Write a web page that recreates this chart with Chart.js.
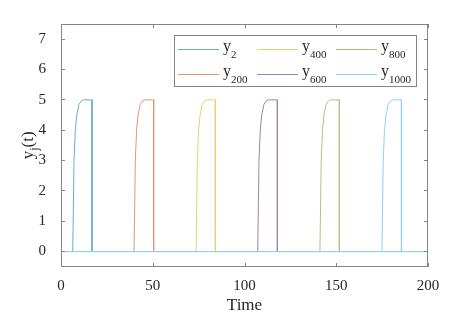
<!DOCTYPE html>
<html>
<head>
<meta charset="utf-8">
<script src="https://cdn.jsdelivr.net/npm/chart.js@4.4.1/dist/chart.umd.min.js"></script>
<style>
  html, body { margin: 0; padding: 0; background: #fff; }
  #wrap { width: 472px; height: 316px; }
</style>
</head>
<body>
<div id="wrap"><canvas id="pulseChart" width="472" height="316"></canvas></div>
<script>
// time points and values, one pair per series
const t2    = [0, 6.4, 7.1, 7.8, 8.6, 9.8, 11.3, 12.4, 16.9, 16.9, 200];
const v2    = [0, 0, 3.0, 4.0, 4.5, 4.85, 4.98, 5, 5, 0, 0];
const t200  = [0, 39.8, 40.5, 41.2, 42.0, 43.2, 44.7, 45.8, 50.5, 50.5, 200];
const v200  = [0, 0, 3.0, 4.0, 4.5, 4.85, 4.98, 5, 5, 0, 0];
const t400  = [0, 73.6, 74.3, 75.0, 75.8, 77.0, 78.5, 79.6, 84.1, 84.1, 200];
const v400  = [0, 0, 3.0, 4.0, 4.5, 4.85, 4.98, 5, 5, 0, 0];
const t600  = [0, 107.2, 107.9, 108.6, 109.4, 110.6, 112.1, 113.2, 117.9, 117.9, 200];
const v600  = [0, 0, 3.0, 4.0, 4.5, 4.85, 4.98, 5, 5, 0, 0];
const t800  = [0, 141.1, 141.8, 142.5, 143.3, 144.5, 146.0, 147.1, 151.7, 151.7, 200];
const v800  = [0, 0, 3.0, 4.0, 4.5, 4.85, 4.98, 5, 5, 0, 0];
const t1000 = [0, 174.9, 175.6, 176.3, 177.1, 178.3, 179.8, 180.9, 185.5, 185.5, 200];
const v1000 = [0, 0, 3.0, 4.0, 4.5, 4.85, 4.98, 5, 5, 0, 0];

const seriesNames = ['2', '200', '400', '600', '800', '1000'];
const xTicks = [0, 50, 100, 150, 200];
const yTicks = [0, 1, 2, 3, 4, 5, 6, 7];

// MATLAB default colours, lightened a little as they look in the picture
const colors = ['#66AAD7', '#E39470', '#F2CC6E', '#A77DB2', '#A3C97D', '#8DD3F2'];
const baseColor = colors[colors.length - 1];   // the last series hides the others along y = 0
const FONT = "'Liberation Serif', 'Times New Roman', serif";

function pts(ts, vs) {
    return ts.map((t, i) => ({ x: t, y: vs[i] }));
}

const allT = [t2, t200, t400, t600, t800, t1000];
const allV = [v2, v200, v400, v600, v800, v1000];

const datasets = seriesNames.map((name, i) => ({
    label: 'y' + name,
    data: pts(allT[i], allV[i]),
    borderColor: colors[i],
    backgroundColor: colors[i],
    borderWidth: 1,
    pointRadius: 0,
    tension: 0,
    fill: false,
    order: seriesNames.length - i,
    segment: {
        borderColor: c => (c.p0.parsed.y === 0 && c.p1.parsed.y === 0) ? baseColor : undefined
    }
}));

// box, inward ticks, axis titles, legend with subscripts
const matlabLook = {
    id: 'matlabLook',
    afterDraw(chart) {
        const ctx = chart.ctx;
        const a = chart.chartArea;
        const xs = chart.scales.x, ys = chart.scales.y;
        const L = Math.round(a.left), R = Math.round(a.right);
        const T = Math.round(a.top), B = Math.round(a.bottom);
        ctx.save();
        ctx.strokeStyle = '#858585';
        ctx.lineWidth = 1;
        ctx.strokeRect(L + 0.5, T + 0.5, R - L - 1, B - T - 1);
        ctx.beginPath();
        xTicks.forEach(v => {
            const px = Math.round(xs.getPixelForValue(v)) + 0.5;
            ctx.moveTo(px, B); ctx.lineTo(px, B - 4);
            ctx.moveTo(px, T); ctx.lineTo(px, T + 4);
        });
        yTicks.forEach(v => {
            const py = Math.round(ys.getPixelForValue(v) - 0.5) + 0.5;
            ctx.moveTo(L, py); ctx.lineTo(L + 4, py);
            ctx.moveTo(R, py); ctx.lineTo(R - 4, py);
        });
        ctx.stroke();

        // x title
        ctx.fillStyle = '#262626';
        ctx.font = '17px ' + FONT;
        ctx.textAlign = 'center';
        ctx.textBaseline = 'alphabetic';
        ctx.fillText('Time', (a.left + a.right) / 2, 310);

        // y title: y_j(t)
        ctx.save();
        ctx.translate(33, (a.top + a.bottom) / 2);
        ctx.rotate(-Math.PI / 2);
        ctx.textAlign = 'left';
        ctx.font = '17px ' + FONT;
        const wy = ctx.measureText('y').width;
        const wt = ctx.measureText('(t)').width;
        ctx.font = '12px ' + FONT;
        const wj = ctx.measureText('j').width;
        let x0 = -(wy + wj + wt) / 2;
        ctx.font = '17px ' + FONT;
        ctx.fillText('y', x0, 0);
        ctx.font = '12px ' + FONT;
        ctx.fillText('j', x0 + wy, 5);
        ctx.font = '17px ' + FONT;
        ctx.fillText('(t)', x0 + wy + wj, 0);
        ctx.restore();

        // legend, filled column by column
        const bw = 243, bh = 52;
        const bx = R - 11 - bw, by = T + 11;
        ctx.fillStyle = '#ffffff';
        ctx.fillRect(bx, by, bw, bh);
        ctx.strokeStyle = '#858585';
        ctx.strokeRect(bx + 0.5, by + 0.5, bw - 1, bh - 1);
        datasets.forEach((ds, i) => {
            const col = Math.floor(i / 2), row = i % 2;
            const lx = bx + 4 + col * 79;
            const base = by + 15 + row * 25;
            ctx.strokeStyle = ds.borderColor;
            ctx.lineWidth = 1;
            ctx.beginPath();
            ctx.moveTo(lx, base - 0.5); ctx.lineTo(lx + 41, base - 0.5);
            ctx.stroke();
            ctx.fillStyle = '#262626';
            ctx.textAlign = 'left';
            ctx.font = '16px ' + FONT;
            ctx.fillText('y', lx + 45, base + 1);
            const w = ctx.measureText('y').width;
            ctx.font = '11px ' + FONT;
            ctx.fillText(seriesNames[i], lx + 45 + w, base + 8);
        });
        ctx.restore();
    }
};

new Chart(document.getElementById('pulseChart').getContext('2d'), {
    type: 'line',
    data: { datasets: datasets },
    options: {
        responsive: false,
        animation: false,
        events: [],
        layout: { padding: { top: 23, right: 44, left: 0, bottom: 0 } },
        scales: {
            x: {
                type: 'linear',
                min: 0,
                max: 200,
                afterFit: s => { s.height = 49.27; },   // puts y = 0 on a pixel centre
                afterBuildTicks: s => { s.ticks = xTicks.map(v => ({ value: v })); },
                grid: { display: false, drawTicks: false },
                border: { display: false },
                ticks: {
                    padding: 10,
                    maxRotation: 0,
                    color: '#262626',
                    font: { family: FONT, size: 15 }
                }
            },
            y: {
                type: 'linear',
                min: -0.5,
                max: 7.5,
                afterFit: s => { s.width = 61; },
                afterBuildTicks: s => { s.ticks = yTicks.map(v => ({ value: v })); },
                grid: { display: false, drawTicks: false },
                border: { display: false },
                ticks: {
                    padding: 15,
                    color: '#262626',
                    font: { family: FONT, size: 15 }
                }
            }
        },
        plugins: {
            legend: { display: false },
            tooltip: { enabled: false },
            title: { display: false }
        }
    },
    plugins: [matlabLook]
});
</script>
</body>
</html>
